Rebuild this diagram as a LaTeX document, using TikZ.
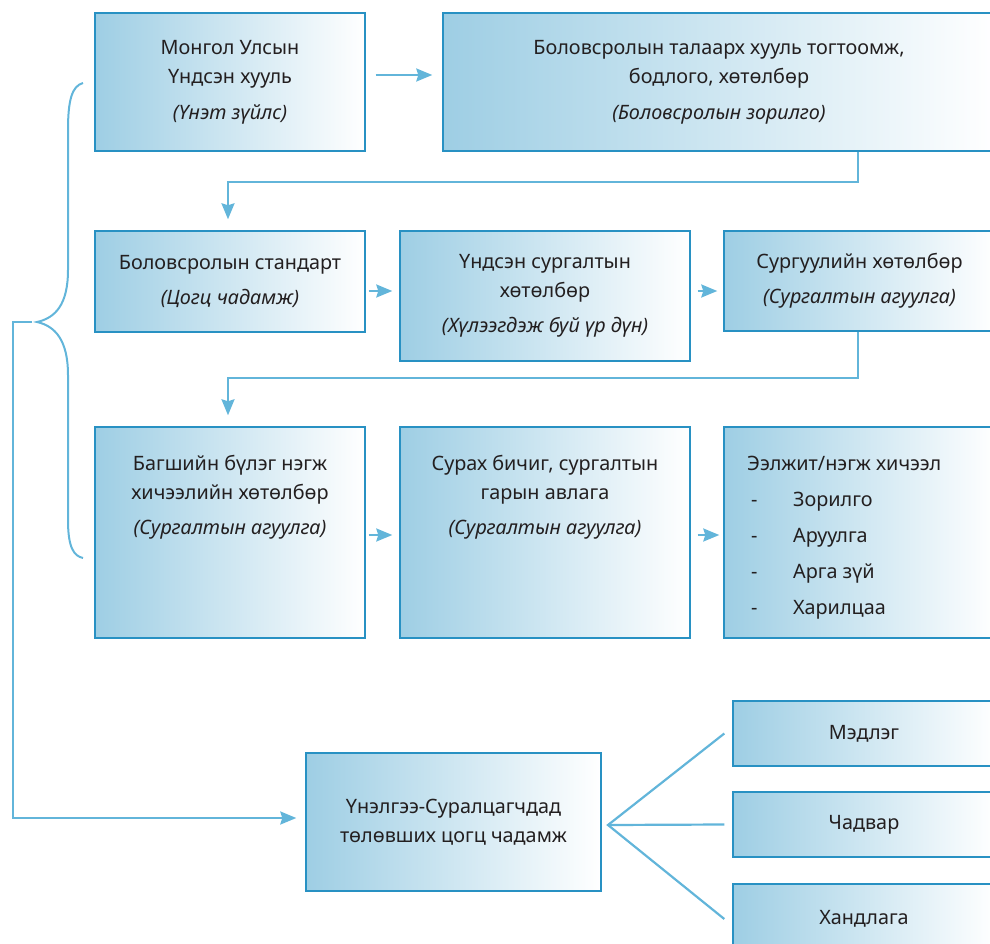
\documentclass[tikz,border=0pt]{standalone}
\usepackage{fontspec}
\setmainfont{Noto Sans}
\usetikzlibrary{arrows.meta,calc}
\definecolor{boxblue}{RGB}{158,206,228}
\definecolor{edgeblue}{RGB}{40,145,195}
\definecolor{lineblue}{RGB}{98,181,218}
\definecolor{txt}{RGB}{35,31,32}
\begin{document}
\begin{tikzpicture}[x=1pt,y=-1pt,
  box/.style={draw=edgeblue,line width=1.4pt,left color=boxblue,right color=white,
    inner sep=0pt,text=txt,align=center,font=\fontsize{19.8}{29}\selectfont},
  conn/.style={draw=lineblue,line width=2.2pt},
  arr/.style={conn,-{Stealth[length=16pt,width=13pt,inset=2pt]}},
  lbl/.style={text=txt,font=\fontsize{19.8}{29}\selectfont,inner sep=0pt}]
\clip (0,0) rectangle (990,944);
% row 1
\node[box,minimum width=270pt,minimum height=138pt] (b1) at (230,82)
  {Монгол Улсын\\Үндсэн хууль\\[7pt]\textit{(Үнэт зүйлс)}};
\node[box,minimum width=552pt,minimum height=138pt] (b2) at (719,82)
  {Боловсролын талаарх хууль тогтоомж,\\бодлого, хөтөлбөр\\[7pt]\textit{(Боловсролын зорилго)}};
% row 2
\node[box,minimum width=270pt,minimum height=101pt] (b3) at (230,281.5)
  {Боловсролын стандарт\\[6pt]\textit{(Цогц чадамж)}};
\node[box,minimum width=290pt,minimum height=130pt] (b4) at (545,296)
  {Үндсэн сургалтын\\хөтөлбөр\\[6pt]\textit{(Хүлээгдэж буй үр дүн)}};
\node[box,minimum width=271pt,minimum height=100pt] (b5) at (859.5,281)
  {Сургуулийн хөтөлбөр\\[6pt]\textit{(Сургалтын агуулга)}};
% row 3
\node[box,minimum width=270pt,minimum height=211pt] (b6) at (230,532.5) {};
\node[box,minimum width=290pt,minimum height=211pt] (b7) at (545,532.5) {};
\node[box,minimum width=271pt,minimum height=211pt] (b8) at (859.5,532.5) {};
\node[lbl,align=center] (t6) at (230,497)
  {Багшийн бүлэг нэгж\\хичээлийн хөтөлбөр\\[6pt]\textit{(Сургалтын агуулга)}};
\node[lbl,align=center] (t7) at (545,497)
  {Сурах бичиг, сургалтын\\гарын авлага\\[6pt]\textit{(Сургалтын агуулга)}};
\node[lbl,anchor=base west] (l0) at (747,470) {Ээлжит/нэгж хичээл};
\node[lbl,anchor=base west] (d1) at (751,506) {-};
\node[lbl,anchor=base west] (d2) at (751,542) {-};
\node[lbl,anchor=base west] (d3) at (751,578) {-};
\node[lbl,anchor=base west] (d4) at (751,614) {-};
\node[lbl,anchor=base west] (i1) at (793,506) {Зорилго};
\node[lbl,anchor=base west] (i2) at (793,542) {Аруулга};
\node[lbl,anchor=base west] (i3) at (793,578) {Арга зүй};
\node[lbl,anchor=base west] (i4) at (793,614) {Харилцаа};
% bottom
\node[box,minimum width=295pt,minimum height=138pt] (b9) at (453.5,822)
  {Үнэлгээ-Суралцагчдад\\төлөвших цогц чадамж};
\node[box,minimum width=262pt,minimum height=65pt] (m1) at (864,733.5) {Мэдлэг};
\node[box,minimum width=262pt,minimum height=65pt] (m2) at (864,824.5) {Чадвар};
\node[box,minimum width=262pt,minimum height=70pt] (m3) at (864,919) {Хандлага};
% arrows
\draw[arr] ([shift={(10,-7)}]b1.east) -- ([shift={(-10,-7)}]b2.west);
\draw[arr] ([shift={(3,9.5)}]b3.east) -- ([shift={(-7,-5)}]b4.west);
\draw[arr] ([shift={(7,-5)}]b4.east) -- ([shift={(-6,10)}]b5.west);
\draw[arr] ([shift={(3,2.5)}]b6.east) -- ([shift={(-7,2.5)}]b7.west);
\draw[arr] ([shift={(7,2.5)}]b7.east) -- ([shift={(-4,2.5)}]b8.west);
\coordinate (t1) at (858,182);
\draw[arr] (b2.south -| t1) -- (t1) -| ([shift={(-2,-11)}]b3.north);
\coordinate (t2) at (858,378);
\draw[arr] (b5.south -| t2) -- (t2) -| ([shift={(-2,-11)}]b6.north);
% brace
\draw[conn,line width=2pt] (83,83) .. controls (72,86) and (68,100) .. (68,130)
  -- (68,270) .. controls (68,305) and (55,318) .. (37,322)
  .. controls (55,326) and (68,340) .. (68,375)
  -- (68,520) .. controls (68,548) and (74,556) .. (83,558);
\coordinate (k1) at (32,322);
\coordinate (k2) at (13,818);
\draw[arr] (k1) -| (k2) -- ([shift={(-9,-4)}]b9.west);
% fan
\coordinate (f) at (608,825);
\draw[conn] ([xshift=-8pt]m1.west) -- (f) -- ([xshift=-8pt]m3.west);
\draw[conn] (f) -- ([xshift=-8pt]m2.west);
\end{tikzpicture}
\end{document}
